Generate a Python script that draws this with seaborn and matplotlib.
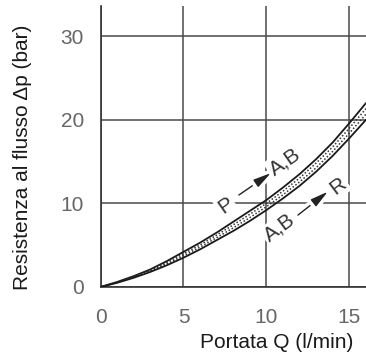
import matplotlib
matplotlib.use("Agg")
import matplotlib.pyplot as plt
import matplotlib.patheffects as pe
import seaborn as sns

# Portata Q (l/min)
portata = [0, 1, 2, 3, 4, 5, 6, 7, 8, 9, 10, 11, 12, 13, 14, 15, 16]

# Resistenza al flusso (bar): limiti della banda e curve interne
curva_sup = [0, 0.6, 1.3, 2.1, 3.1, 4.2, 5.3, 6.5, 7.8, 9.1, 10.4, 11.9, 13.5, 15.3, 17.3, 19.6, 22.0]
curva_med1 = [0, 0.57, 1.23, 2.0, 2.93, 3.97, 5.03, 6.2, 7.43, 8.7, 10.0, 11.47, 13.03, 14.83, 16.77, 19.0, 21.33]
curva_med2 = [0, 0.53, 1.17, 1.9, 2.77, 3.73, 4.77, 5.9, 7.07, 8.3, 9.6, 11.03, 12.57, 14.27, 16.23, 18.4, 20.67]
curva_inf = [0, 0.5, 1.1, 1.8, 2.6, 3.5, 4.5, 5.6, 6.7, 7.9, 9.2, 10.6, 12.1, 13.8, 15.7, 17.8, 20.0]

xticks = [0, 5, 10, 15]
yticks = [0, 10, 20, 30]

sns.set_theme(style="white")
plt.rcParams["font.family"] = ["Liberation Sans", "DejaVu Sans"]

fig = plt.figure(figsize=(3.66, 3.6), dpi=100)
ax = fig.add_axes([0.2746, 0.2028, 0.7254, 0.7805])

grid_col = "#4a4a4a"

sns.lineplot(x=portata, y=curva_sup, ax=ax, color="#1a1a1a", linewidth=1.3, zorder=3)
sns.lineplot(x=portata, y=curva_med1, ax=ax, color="#333333", linewidth=1.1, linestyle=(0, (1, 1.3)), zorder=3)
sns.lineplot(x=portata, y=curva_med2, ax=ax, color="#333333", linewidth=1.1, linestyle=(0, (1, 1.3)), zorder=3)
sns.lineplot(x=portata, y=curva_inf, ax=ax, color="#1a1a1a", linewidth=1.3, zorder=3)

ax.set_xlim(0, 16)
ax.set_ylim(0, 33.6)
ax.set_xticks(xticks)
ax.set_yticks(yticks)

ax.grid(True, color=grid_col, linewidth=1.1)
ax.set_axisbelow(True)

for s in ["top", "right"]:
    ax.spines[s].set_visible(False)
for s in ["left", "bottom"]:
    ax.spines[s].set_color("#333333")
    ax.spines[s].set_linewidth(1.2)

ax.tick_params(axis="both", direction="out", length=5, width=1.1, color=grid_col,
               labelsize=15, labelcolor="#666666")
ax.tick_params(axis="x", pad=10)
ax.tick_params(axis="y", pad=7)

ax.set_xlabel("Portata Q (l/min)", fontsize=15, color="#1a1a1a", loc="right")
ax.xaxis.set_label_coords(0.951, -0.165)
ax.set_ylabel("Resistenza al flusso Δp (bar)", fontsize=15, color="#1a1a1a", loc="bottom")
ax.yaxis.set_label_coords(-0.258, -0.012)

# etichette delle direzioni di flusso
box = dict(facecolor="white", edgecolor="none", pad=1.5)
testo = dict(fontsize=15, color="#333333", ha="center", va="center", zorder=4, bbox=box)
bianco = [pe.Stroke(linewidth=6, foreground="white"), pe.Normal()]
freccia = dict(arrowstyle="-|>,head_length=0.9,head_width=0.22", color="#222222",
               linewidth=1.0, shrinkA=0, shrinkB=0, path_effects=bianco)

ax.text(7.56, 9.7, "P", rotation=35, **testo)
ax.annotate("", xy=(10.27, 13.63), xytext=(8.34, 11.0), arrowprops=freccia, zorder=4)
ax.text(11.1, 14.95, "A,B", rotation=35, **testo)

ax.text(10.8, 7.06, "A,B", rotation=37, **testo)
ax.annotate("", xy=(13.7, 11.4), xytext=(11.9, 8.6), arrowprops=freccia, zorder=4)
ax.text(14.3, 12.1, "R", rotation=37, **testo)

fig.savefig("out.png", dpi=100)
